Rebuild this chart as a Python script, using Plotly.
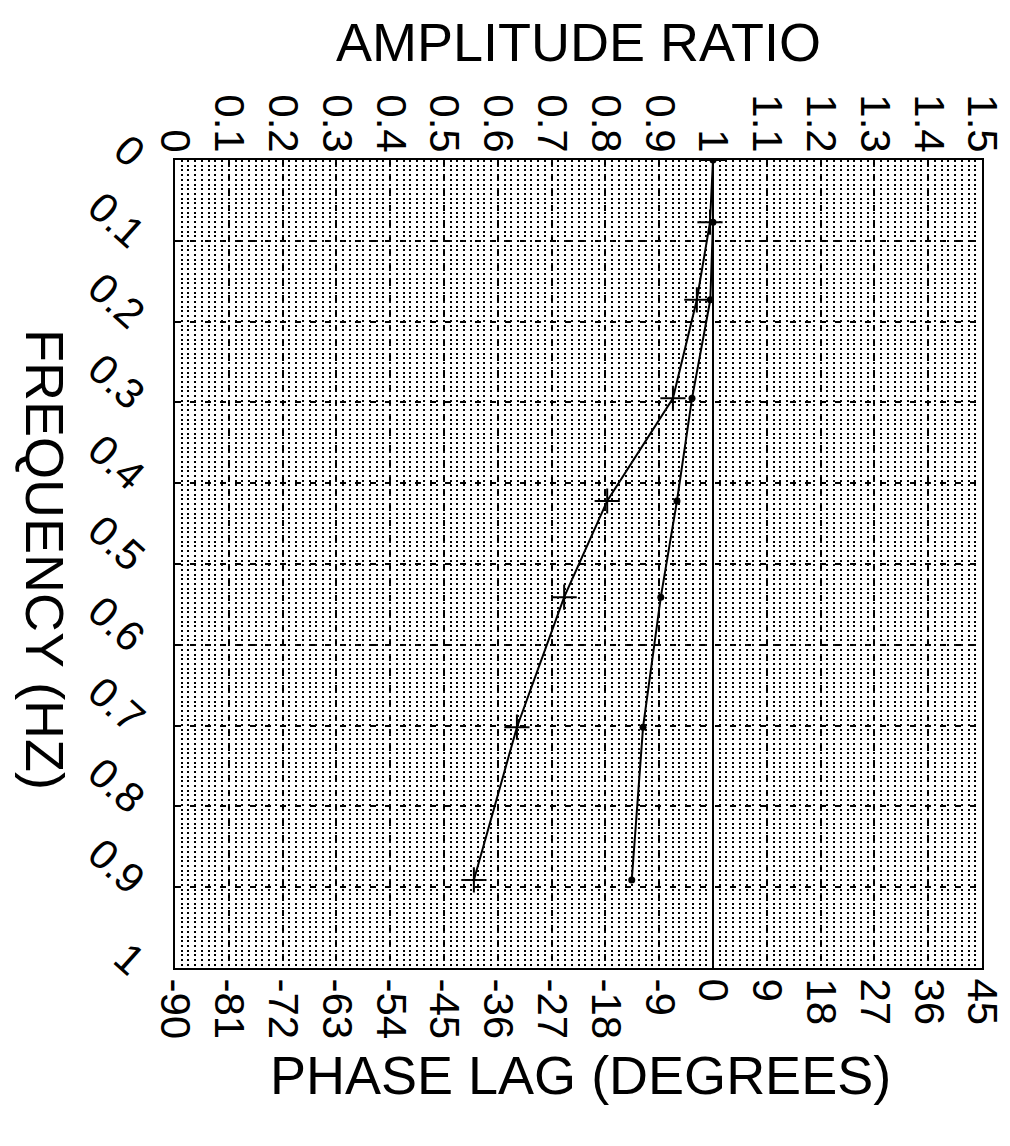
import plotly.graph_objects as go

# ---- data ----
FREQ = [0.0, 0.077, 0.173, 0.295, 0.422, 0.541, 0.702, 0.891]
AMPLITUDE = [1.0, 1.0, 0.995, 0.961, 0.933, 0.903, 0.870, 0.849]
PHASE = [0.0, -0.5, -2.7, -6.7, -17.7, -24.9, -32.8, -40.0]

PHASE_TICKS = [-90, -81, -72, -63, -54, -45, -36, -27, -18, -9, 0, 9, 18, 27, 36, 45]
PHASE_LABELS = [str(v) for v in PHASE_TICKS]
AMP_TICKS = [0, 0.1, 0.2, 0.3, 0.4, 0.5, 0.6, 0.7, 0.8, 0.9, 1.0, 1.1, 1.2, 1.3, 1.4, 1.5]
AMP_LABELS = ["0", "0.1", "0.2", "0.3", "0.4", "0.5", "0.6", "0.7", "0.8", "0.9",
              "1", "1.1", "1.2", "1.3", "1.4", "1.5"]
FREQ_TICKS = [0, 0.1, 0.2, 0.3, 0.4, 0.5, 0.6, 0.7, 0.8, 0.9, 1.0]
FREQ_LABELS = ["0", "0.1", "0.2", "0.3", "0.4", "0.5", "0.6", "0.7", "0.8", "0.9", "1"]

FONT = "Liberation Sans, Arial, sans-serif"
TICKFONT = dict(family=FONT, size=42, color="black")
TITLEFONT = dict(family=FONT, size=54, color="black")

fig = go.Figure()

fig.add_trace(go.Scatter(
    x=PHASE, y=FREQ, xaxis="x", yaxis="y", mode="lines+markers",
    line=dict(color="black", width=2),
    marker=dict(symbol="cross-thin", size=18, line=dict(color="black", width=2)),
    name="Phase lag", showlegend=False,
))
fig.add_trace(go.Scatter(
    x=AMPLITUDE, y=FREQ, xaxis="x2", yaxis="y", mode="lines+markers",
    line=dict(color="black", width=2),
    marker=dict(symbol="circle", size=7, color="black"),
    name="Amplitude ratio", showlegend=False,
))

fig.update_layout(
    width=1002, height=1138,
    margin=dict(l=167, r=28, t=152, b=178),
    paper_bgcolor="white", plot_bgcolor="white",
    xaxis=dict(
        range=[-90, 45], tickvals=PHASE_TICKS, ticktext=PHASE_LABELS,
        tickangle=90, tickfont=TICKFONT, side="bottom", automargin=False,
        showgrid=True, gridcolor="black", gridwidth=1.5, griddash="6px,9px",
        minor=dict(dtick=1.125, tick0=0, showgrid=True, gridcolor="#000000",
                   gridwidth=2, griddash="2px,2.7px"),
        zeroline=True, zerolinecolor="black", zerolinewidth=2,
        showline=True, linecolor="black", linewidth=2, mirror=True,
        ticks="", fixedrange=True,
    ),
    xaxis2=dict(
        range=[0, 1.5], tickvals=AMP_TICKS, ticktext=AMP_LABELS,
        tickangle=90, tickfont=TICKFONT, side="top", overlaying="x",
        anchor="y", showgrid=False, zeroline=False, showline=False,
        automargin=False, ticks="", fixedrange=True,
    ),
    yaxis=dict(
        range=[1, 0], tickvals=FREQ_TICKS, ticktext=FREQ_LABELS,
        tickangle=42, tickfont=TICKFONT, automargin=False, ticklabelstandoff=22,
        showgrid=True, gridcolor="black", gridwidth=1.5, griddash="6px,9px",
        zeroline=False,
        showline=True, linecolor="black", linewidth=2, mirror=True,
        ticks="", fixedrange=True,
    ),
    annotations=[
        dict(text="AMPLITUDE RATIO", x=0.4994, y=1.146, xref="paper", yref="paper",
             showarrow=False, font=TITLEFONT, xanchor="center", yanchor="middle"),
        dict(text="PHASE LAG (DEGREES)", x=0.502, y=-0.132, xref="paper", yref="paper",
             showarrow=False, font=TITLEFONT, xanchor="center", yanchor="middle"),
        dict(text="FREQUENCY (HZ)", x=-0.161, y=0.506, xref="paper", yref="paper",
             showarrow=False, font=TITLEFONT, textangle=90,
             xanchor="center", yanchor="middle"),
    ],
)

fig.write_html("out.html")
